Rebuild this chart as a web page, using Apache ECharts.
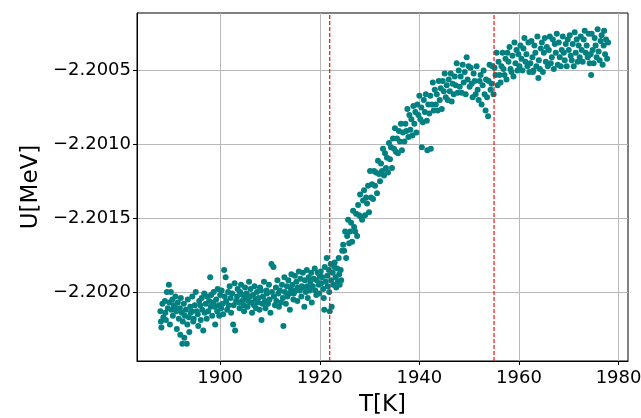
<!DOCTYPE html>
<html>
<head>
<meta charset="utf-8">
<script src="https://cdn.jsdelivr.net/npm/echarts@6/dist/echarts.min.js"></script>
<style>html,body{margin:0;padding:0;background:#fff}#chart{width:641px;height:418px}</style>
</head>
<body>
<div id="chart"></div>
<script>
// Energy U[MeV] vs temperature T[K]: low-temperature phase
const lowPhase = [
[1888.0,-2.20213],[1888.1,-2.20220],[1888.2,-2.20224],[1888.4,-2.20208],[1888.6,-2.20217],
[1888.9,-2.20206],[1889.0,-2.20214],[1889.1,-2.20219],[1889.3,-2.20200],[1889.5,-2.20211],
[1889.7,-2.20195],[1889.8,-2.20207],[1889.9,-2.20222],[1890.1,-2.20200],[1890.2,-2.20212],
[1890.4,-2.20205],[1890.5,-2.20216],[1890.7,-2.20209],[1890.9,-2.20210],[1891.0,-2.20203],
[1891.2,-2.20213],[1891.3,-2.20225],[1891.5,-2.20207],[1891.7,-2.20218],[1891.9,-2.20211],
[1892.0,-2.20229],[1892.1,-2.20204],[1892.3,-2.20214],[1892.4,-2.20235],[1892.5,-2.20220],
[1892.7,-2.20208],[1892.8,-2.20231],[1892.9,-2.20216],[1893.1,-2.20212],[1893.3,-2.20235],
[1893.4,-2.20222],[1893.5,-2.20205],[1893.7,-2.20217],[1893.8,-2.20227],[1894.0,-2.20210],
[1894.1,-2.20214],[1894.3,-2.20213],[1894.4,-2.20203],[1894.6,-2.20220],[1894.7,-2.20218],
[1894.9,-2.20209],[1895.1,-2.20200],[1895.3,-2.20213],[1895.5,-2.20215],[1895.6,-2.20223],
[1895.8,-2.20206],[1896.0,-2.20209],[1896.1,-2.20219],[1896.3,-2.20204],[1896.4,-2.20212],
[1896.6,-2.20226],[1896.8,-2.20201],[1896.9,-2.20214],[1897.1,-2.20208],[1897.3,-2.20218],
[1897.4,-2.20203],[1897.6,-2.20213],[1897.8,-2.20206],[1898.0,-2.20190],[1898.1,-2.20210],
[1898.2,-2.20202],[1898.4,-2.20216],[1898.6,-2.20207],[1898.7,-2.20200],[1898.9,-2.20210],
[1899.0,-2.20222],[1899.2,-2.20205],[1899.4,-2.20213],[1899.5,-2.20198],[1899.7,-2.20209],
[1899.8,-2.20216],[1900.0,-2.20202],[1900.2,-2.20211],[1900.3,-2.20199],[1900.5,-2.20208],
[1900.6,-2.20215],[1900.8,-2.20185],[1900.9,-2.20203],[1901.1,-2.20190],[1901.2,-2.20206],
[1901.4,-2.20212],[1901.6,-2.20200],[1901.7,-2.20209],[1901.9,-2.20196],[1902.1,-2.20204],
[1902.2,-2.20214],[1902.4,-2.20201],[1902.6,-2.20222],[1902.7,-2.20209],[1902.9,-2.20194],
[1903.0,-2.20226],[1903.2,-2.20206],[1903.4,-2.20203],[1903.5,-2.20198],[1903.7,-2.20207],
[1903.9,-2.20211],[1904.0,-2.20200],[1904.2,-2.20195],[1904.4,-2.20206],[1904.5,-2.20202],
[1904.7,-2.20209],[1904.8,-2.20213],[1905.0,-2.20197],[1905.2,-2.20204],[1905.3,-2.20201],
[1905.5,-2.20210],[1905.6,-2.20206],[1905.8,-2.20193],[1906.0,-2.20203],[1906.1,-2.20198],
[1906.3,-2.20207],[1906.4,-2.20214],[1906.6,-2.20202],[1906.8,-2.20209],[1906.9,-2.20196],
[1907.1,-2.20205],[1907.2,-2.20211],[1907.4,-2.20200],[1907.6,-2.20207],[1907.7,-2.20204],
[1907.9,-2.20212],[1908.0,-2.20197],[1908.2,-2.20199],[1908.3,-2.20219],[1908.5,-2.20208],
[1908.6,-2.20203],[1908.8,-2.20193],[1909.0,-2.20206],[1909.1,-2.20211],[1909.3,-2.20199],
[1909.4,-2.20201],[1909.6,-2.20208],[1909.8,-2.20195],[1909.9,-2.20205],[1910.1,-2.20214],
[1910.3,-2.20181],[1910.4,-2.20200],[1910.7,-2.20183],[1910.8,-2.20203],[1911.0,-2.20209],
[1911.2,-2.20197],[1911.3,-2.20206],[1911.5,-2.20192],[1911.7,-2.20201],[1911.8,-2.20210],
[1912.0,-2.20199],[1912.2,-2.20207],[1912.4,-2.20195],[1912.6,-2.20204],[1912.7,-2.20223],
[1912.9,-2.20190],[1913.0,-2.20200],[1913.2,-2.20208],[1913.4,-2.20196],[1913.5,-2.20203],
[1913.7,-2.20192],[1913.9,-2.20201],[1914.0,-2.20212],[1914.2,-2.20198],[1914.3,-2.20188],
[1914.5,-2.20195],[1914.7,-2.20205],[1914.8,-2.20201],[1915.0,-2.20189],[1915.1,-2.20199],
[1915.3,-2.20193],[1915.5,-2.20206],[1915.6,-2.20197],[1915.8,-2.20186],[1916.0,-2.20199],
[1916.1,-2.20191],[1916.3,-2.20203],[1916.4,-2.20196],[1916.6,-2.20187],[1916.7,-2.20197],
[1916.9,-2.20210],[1917.0,-2.20192],[1917.2,-2.20200],[1917.4,-2.20185],[1917.5,-2.20196],
[1917.6,-2.20204],[1917.8,-2.20190],[1918.0,-2.20199],[1918.1,-2.20193],[1918.3,-2.20187],
[1918.4,-2.20207],[1918.6,-2.20196],[1918.8,-2.20191],[1919.0,-2.20184],[1919.1,-2.20199],
[1919.3,-2.20202],[1919.4,-2.20192],[1919.6,-2.20187],[1919.8,-2.20195],[1919.9,-2.20201],
[1920.0,-2.20189],[1920.2,-2.20186],[1920.3,-2.20194],[1920.5,-2.20190],[1920.7,-2.20198],
[1920.8,-2.20204],[1920.9,-2.20212],[1921.0,-2.20183],[1921.2,-2.20193],[1921.4,-2.20177],
[1921.5,-2.20189],[1921.6,-2.20196],[1921.8,-2.20185],[1921.9,-2.20200],[1922.0,-2.20213],
[1922.2,-2.20181],[1922.3,-2.20192],[1922.4,-2.20210],[1922.6,-2.20187],[1922.7,-2.20195],
[1922.9,-2.20183],[1923.0,-2.20180],[1923.2,-2.20190],[1923.3,-2.20197],[1923.5,-2.20184],
[1923.6,-2.20193],[1923.8,-2.20177],[1923.9,-2.20188],[1924.0,-2.20195],[1924.2,-2.20185],
[1924.3,-2.20192],[1924.5,-2.20172],[1924.7,-2.20168]
];
// transition region
const transition = [
[1924.9,-2.20172],[1925.1,-2.20159],[1925.3,-2.20177],[1925.5,-2.20162],[1925.7,-2.20151],
[1925.9,-2.20167],[1926.1,-2.20159],[1926.3,-2.20153],[1926.5,-2.20166],[1926.7,-2.20145],
[1926.9,-2.20156],[1927.1,-2.20159],[1927.3,-2.20147],[1927.5,-2.20162],[1927.7,-2.20141],
[1927.9,-2.20148],[1928.1,-2.20134],[1928.3,-2.20149],[1928.5,-2.20151],[1928.7,-2.20138],
[1928.9,-2.20131],[1929.1,-2.20148],[1929.3,-2.20136],[1929.5,-2.20140],[1929.7,-2.20128],
[1929.9,-2.20146],[1930.1,-2.20118],[1930.3,-2.20136],[1930.5,-2.20127],[1930.7,-2.20137],
[1930.9,-2.20118],[1931.1,-2.20128],[1931.3,-2.20119],[1931.5,-2.20133],[1931.7,-2.20111],
[1931.9,-2.20120],[1932.1,-2.20125],[1932.3,-2.20113],[1932.5,-2.20118],[1932.7,-2.20103],
[1932.9,-2.20121],[1933.1,-2.20106],[1933.3,-2.20116],[1933.5,-2.20109],[1933.7,-2.20119],
[1933.9,-2.20099],[1934.1,-2.20110],[1934.3,-2.20102],[1934.5,-2.20116],[1934.7,-2.20096],
[1934.9,-2.20103],[1935.1,-2.20089],[1935.3,-2.20105],[1935.5,-2.20096],[1935.7,-2.20106],
[1935.9,-2.20091],[1936.1,-2.20098],[1936.3,-2.20086],[1936.5,-2.20104],[1936.7,-2.20092],
[1937.0,-2.20098],[1937.2,-2.20086],[1937.4,-2.20091],[1937.6,-2.20076],[1937.8,-2.20095],
[1938.0,-2.20080],[1938.2,-2.20090],[1938.4,-2.20083],[1938.6,-2.20094],[1938.8,-2.20074],
[1939.0,-2.20086],[1939.2,-2.20078],[1939.4,-2.20092],[1939.6,-2.20073],[1939.8,-2.20080],
[1940.0,-2.20067],[1940.2,-2.20083],[1940.4,-2.20075],[1940.5,-2.20102],[1940.7,-2.20085],
[1940.9,-2.20070],[1941.1,-2.20078],[1941.3,-2.20066],[1941.5,-2.20084],[1941.6,-2.20104],
[1941.8,-2.20073],[1942.0,-2.20079],[1942.2,-2.20067],[1942.3,-2.20103],[1942.5,-2.20073],
[1942.7,-2.20058],[1942.9,-2.20077],[1943.1,-2.20063],[1943.3,-2.20073],[1943.5,-2.20066],
[1943.7,-2.20077],[1943.9,-2.20057],[1944.1,-2.20070],[1944.3,-2.20062],[1944.5,-2.20076],
[1944.7,-2.20057],[1944.9,-2.20064],[1945.1,-2.20052],[1945.3,-2.20068],[1945.5,-2.20060],
[1945.7,-2.20070],[1945.9,-2.20056],[1946.1,-2.20064],[1946.3,-2.20052],[1946.5,-2.20071],
[1946.7,-2.20059],[1946.9,-2.20066],[1947.1,-2.20054],[1947.3,-2.20060],[1947.5,-2.20045],
[1947.7,-2.20065],[1947.9,-2.20050],[1948.1,-2.20061],[1948.3,-2.20054],[1948.5,-2.20065],
[1948.7,-2.20046],[1948.9,-2.20058],[1949.1,-2.20051],[1949.3,-2.20066],[1949.5,-2.20041],
[1949.7,-2.20056],[1949.9,-2.20047]
];
// high-temperature phase
const highPhase = [
[1950.1,-2.20061],[1950.3,-2.20048],[1950.5,-2.20059],[1950.7,-2.20068],[1950.9,-2.20052],
[1951.1,-2.20057],[1951.3,-2.20066],[1951.5,-2.20047],[1951.7,-2.20063],[1951.9,-2.20070],
[1952.1,-2.20057],[1952.3,-2.20053],[1952.5,-2.20073],[1952.7,-2.20060],[1952.9,-2.20050],
[1953.1,-2.20066],[1953.3,-2.20077],[1953.4,-2.20056],[1953.6,-2.20068],[1953.8,-2.20081],
[1953.9,-2.20057],[1954.1,-2.20046],[1954.3,-2.20063],[1954.5,-2.20059],[1954.7,-2.20047],
[1954.9,-2.20066],[1955.1,-2.20048],[1955.3,-2.20053],[1955.5,-2.20038],[1955.7,-2.20060],
[1955.9,-2.20044],[1956.1,-2.20053],[1956.3,-2.20058],[1956.5,-2.20047],[1956.7,-2.20038],
[1956.9,-2.20049],[1957.1,-2.20053],[1957.3,-2.20042],[1957.5,-2.20056],[1957.7,-2.20038],
[1957.9,-2.20044],[1958.1,-2.20034],[1958.3,-2.20049],[1958.5,-2.20051],[1958.7,-2.20040],
[1958.9,-2.20054],[1959.1,-2.20031],[1959.3,-2.20045],[1959.5,-2.20036],[1959.7,-2.20050],
[1959.9,-2.20039],[1960.1,-2.20047],[1960.3,-2.20033],[1960.5,-2.20042],[1960.7,-2.20050],
[1960.9,-2.20035],[1961.1,-2.20028],[1961.3,-2.20044],[1961.5,-2.20039],[1961.7,-2.20047],
[1961.9,-2.20031],[1962.1,-2.20051],[1962.3,-2.20045],[1962.5,-2.20030],[1962.7,-2.20041],
[1962.8,-2.20051],[1962.9,-2.20050],[1963.1,-2.20033],[1963.3,-2.20038],[1963.5,-2.20047],
[1963.7,-2.20027],[1963.9,-2.20055],[1964.0,-2.20043],[1964.2,-2.20049],[1964.4,-2.20035],
[1964.6,-2.20031],[1964.8,-2.20051],[1965.0,-2.20038],[1965.2,-2.20028],[1965.4,-2.20044],
[1965.6,-2.20034],[1965.8,-2.20047],[1966.0,-2.20036],[1966.2,-2.20027],[1966.4,-2.20045],
[1966.6,-2.20041],[1966.8,-2.20029],[1967.0,-2.20049],[1967.2,-2.20032],[1967.4,-2.20038],
[1967.6,-2.20025],[1967.8,-2.20046],[1968.0,-2.20031],[1968.2,-2.20041],[1968.4,-2.20047],
[1968.6,-2.20036],[1968.8,-2.20027],[1969.0,-2.20038],[1969.2,-2.20043],[1969.4,-2.20032],
[1969.6,-2.20047],[1969.8,-2.20029],[1970.0,-2.20036],[1970.2,-2.20026],[1970.4,-2.20040],
[1970.6,-2.20043],[1970.8,-2.20032],[1971.0,-2.20047],[1971.2,-2.20024],[1971.4,-2.20038],
[1971.6,-2.20029],[1971.8,-2.20044],[1972.0,-2.20033],[1972.2,-2.20041],[1972.4,-2.20027],
[1972.6,-2.20036],[1972.8,-2.20044],[1973.0,-2.20029],[1973.2,-2.20023],[1973.4,-2.20038],
[1973.6,-2.20033],[1973.8,-2.20041],[1974.0,-2.20025],[1974.2,-2.20045],[1974.4,-2.20039],
[1974.5,-2.20053],[1974.6,-2.20025],[1974.8,-2.20036],[1975.0,-2.20045],[1975.2,-2.20028],
[1975.4,-2.20033],[1975.6,-2.20041],[1975.8,-2.20022],[1976.0,-2.20037],[1976.2,-2.20043],
[1976.4,-2.20030],[1976.6,-2.20026],[1976.8,-2.20046],[1977.0,-2.20033],[1977.1,-2.20023],
[1977.3,-2.20039],[1977.5,-2.20029],[1977.7,-2.20042],[1977.9,-2.20031]
];
const transitionMarkers = [1922, 1955];
const xTicks = [1900, 1920, 1940, 1960, 1980];
const yTicks = [-2.2020, -2.2015, -2.2010, -2.2005];
const xRange = [1883.3, 1981.9];
const yRange = [-2.202467, -2.200110];

const FONT = 'DejaVu Sans';
const RED = '#ee1111';
const allPoints = lowPhase.concat(transition, highPhase);
const chart = echarts.init(document.getElementById('chart'), null, {renderer: 'canvas'});
const gridLine = {show: true, lineStyle: {color: '#b8b8b8', width: 1}};
chart.setOption({
  animation: false,
  backgroundColor: '#ffffff',
  grid: {left: 137, right: 13, top: 13, bottom: 57, containLabel: false, outerBoundsMode: 'none',
    show: true, borderColor: '#000', borderWidth: 1, backgroundColor: 'transparent'},
  xAxis: {
    type: 'value', min: xRange[0], max: xRange[1],
    name: 'T[K]', nameLocation: 'middle', nameGap: 33,
    nameTextStyle: {fontFamily: FONT, fontSize: 23, color: '#000'},
    axisLine: {show: true, onZero: false, lineStyle: {color: '#000', width: 1}},
    axisTick: {show: true, length: 4, customValues: xTicks, lineStyle: {color: '#000'}},
    axisLabel: {customValues: xTicks, fontFamily: FONT, fontSize: 18, color: '#000', margin: 8,
      formatter: v => String(v)},
    splitLine: gridLine
  },
  yAxis: {
    type: 'value', min: yRange[0], max: yRange[1],
    name: 'U[MeV]', nameLocation: 'middle', nameGap: 93, nameRotate: 90,
    nameTextStyle: {fontFamily: FONT, fontSize: 23, color: '#000'},
    axisLine: {show: true, onZero: false, lineStyle: {color: '#000', width: 1}},
    axisTick: {show: true, length: 4, customValues: yTicks, lineStyle: {color: '#000'}},
    axisLabel: {customValues: yTicks, fontFamily: FONT, fontSize: 18, color: '#000', margin: 6,
      formatter: v => '\u2212' + Math.abs(v).toFixed(4)},
    splitLine: gridLine
  },
  series: [{
    type: 'scatter',
    data: allPoints,
    symbol: 'circle',
    symbolSize: 6,
    itemStyle: {color: '#008080', opacity: 1},
    z: 2
  }]
});
// vertical dashed markers positioned through the chart's own scales
const markerGraphics = transitionMarkers.map(t => {
  const p0 = chart.convertToPixel({gridIndex: 0}, [t, yRange[0]]);
  const p1 = chart.convertToPixel({gridIndex: 0}, [t, yRange[1]]);
  return {
    type: 'line', silent: true, z: 100,
    shape: {x1: p0[0], y1: p0[1], x2: p1[0], y2: p1[1]},
    style: {stroke: RED, lineWidth: 1.2, lineDash: [4, 2]}
  };
});
chart.setOption({graphic: {elements: markerGraphics}});
</script>
</body>
</html>
